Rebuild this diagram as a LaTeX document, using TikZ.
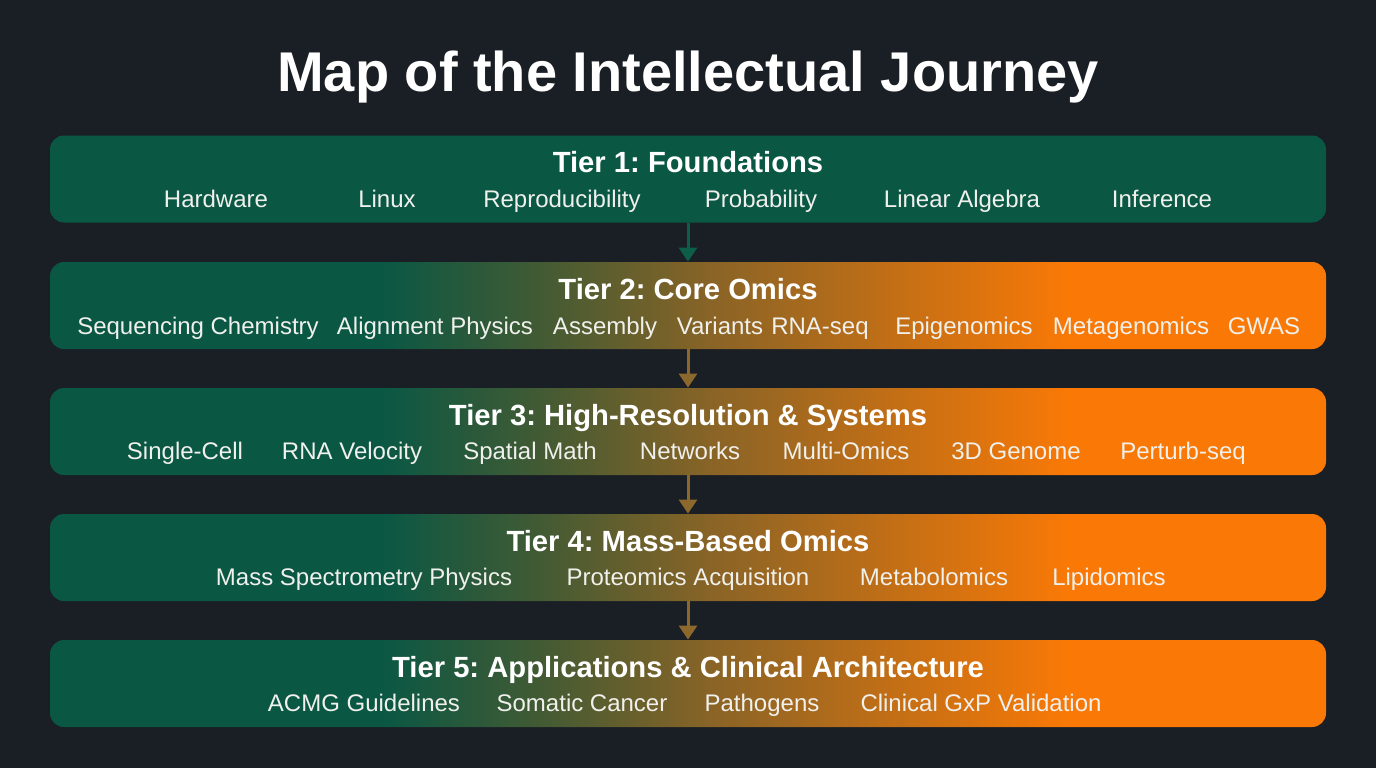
\documentclass[tikz,border=0pt]{standalone}
\usepackage{fontspec}
\setmainfont{Liberation Sans}
\usetikzlibrary{arrows.meta}
\frenchspacing
\definecolor{bgc}{RGB}{26,30,37}
\definecolor{grn}{RGB}{10,88,68}
\definecolor{olv}{RGB}{64,90,52}
\definecolor{midc}{RGB}{138,100,38}
\definecolor{org}{RGB}{250,121,6}
\definecolor{arrg}{RGB}{12,94,72}
\definecolor{arrb}{RGB}{140,104,44}
\definecolor{txt}{RGB}{240,240,236}
\pgfdeclarehorizontalshading{tiershade}{100bp}{color(0bp)=(grn); color(38bp)=(grn); color(44bp)=(olv); color(51bp)=(midc); color(65bp)=(org); color(100bp)=(org)}
\begin{document}
\begin{tikzpicture}[x=0.5pt,y=-0.5pt,
  tierbox/.style={rounded corners=7pt,minimum width=638pt,minimum height=43.5pt,inner sep=0pt,draw=none},
  tiertitle/.style={text=white,font=\fontsize{14.6}{16}\selectfont\bfseries,inner sep=0pt,anchor=base},
  item/.style={text=txt,font=\fontsize{12}{14}\selectfont,inner sep=0pt,anchor=base},
  conn/.style={line width=1.5pt,-{Triangle[width=9pt,length=7pt]}}]
\useasboundingbox[fill=bgc] (0,0) rectangle (1376,768);
\node[text=white,font=\fontsize{28}{32}\selectfont\bfseries,inner sep=0pt,anchor=base] (title) at (688,91) {Map of the Intellectual Journey};
% boxes
\node[tierbox,fill=grn] (t1) at (688,179) {};
\node[tierbox,shading=tiershade] (t2) at (688,305.5) {};
\node[tierbox,shading=tiershade] (t3) at (688,431.5) {};
\node[tierbox,shading=tiershade] (t4) at (688,557.5) {};
\node[tierbox,shading=tiershade] (t5) at (688,683.5) {};
% connectors
\draw[conn,arrg] (t1.south) -- (t2.north);
\draw[conn,arrb] (t2.south) -- (t3.north);
\draw[conn,arrb] (t3.south) -- (t4.north);
\draw[conn,arrb] (t4.south) -- (t5.north);
% tier 1
\node[tiertitle] (h1) at (688,172) {Tier 1: Foundations};
\node[item] (a1) at (216,207) {Hardware};
\node[item] (a2) at (387,207) {Linux};
\node[item] (a3) at (562,207) {Reproducibility};
\node[item] (a4) at (761,207) {Probability};
\node[item] (a5) at (962,207) {Linear Algebra};
\node[item] (a6) at (1162,207) {Inference};
% tier 2
\node[tiertitle] (h2) at (688,299) {Tier 2: Core Omics};
\node[item] (b1) at (198,334) {Sequencing Chemistry};
\node[item] (b2) at (435,334) {Alignment Physics};
\node[item] (b3) at (605,334) {Assembly};
\node[item] (b4) at (720,334) {Variants};
\node[item] (b5) at (820,334) {RNA-seq};
\node[item] (b6) at (964,334) {Epigenomics};
\node[item] (b7) at (1131,334) {Metagenomics};
\node[item] (b8) at (1264,334) {GWAS};
% tier 3
\node[tiertitle] (h3) at (688,425) {Tier 3: High-Resolution \& Systems};
\node[item] (c1) at (185,459) {Single-Cell};
\node[item] (c2) at (352,459) {RNA Velocity};
\node[item] (c3) at (530,459) {Spatial Math};
\node[item] (c4) at (690,459) {Networks};
\node[item] (c5) at (846,459) {Multi-Omics};
\node[item] (c6) at (1016,459) {3D Genome};
\node[item] (c7) at (1183,459) {Perturb-seq};
% tier 4
\node[tiertitle] (h4) at (688,551) {Tier 4: Mass-Based Omics};
\node[item] (d1) at (364,585) {Mass Spectrometry Physics};
\node[item] (d2) at (688,585) {Proteomics Acquisition};
\node[item] (d3) at (934,585) {Metabolomics};
\node[item] (d4) at (1109,585) {Lipidomics};
% tier 5
\node[tiertitle] (h5) at (688,677) {Tier 5: Applications \& Clinical Architecture};
\node[item] (e1) at (364,711) {ACMG Guidelines};
\node[item] (e2) at (582,711) {Somatic Cancer};
\node[item] (e3) at (762,711) {Pathogens};
\node[item] (e4) at (981,711) {Clinical GxP Validation};
\end{tikzpicture}
\end{document}
